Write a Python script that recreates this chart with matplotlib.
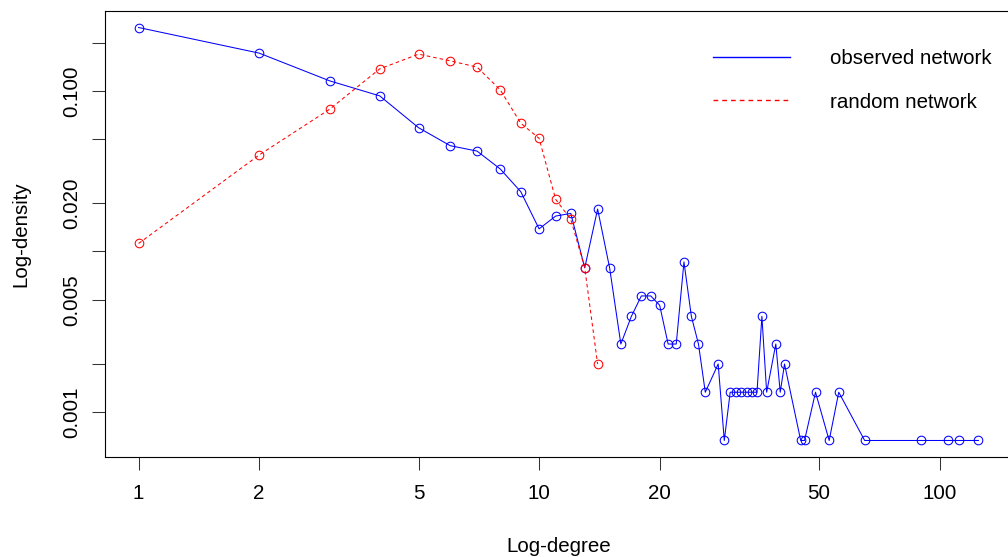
import numpy as np
import matplotlib
matplotlib.use("Agg")
import matplotlib.pyplot as plt

plt.rcParams['font.family'] = ['Liberation Sans', 'DejaVu Sans']

# Observed network: degree and density
obs_degree = [1, 2, 3, 4, 5, 6, 7, 8, 9, 10, 11, 12, 13, 14, 15, 16, 17, 18, 19, 20,
              21, 22, 23, 24, 25, 26, 28, 29, 30, 31, 32, 33, 34, 35, 36, 37, 39, 40,
              41, 45, 46, 49, 53, 56, 65, 90, 105, 112, 125]
obs_density = [0.2496, 0.1728, 0.1160, 0.0935, 0.0592, 0.0457, 0.0423, 0.0327, 0.0236,
               0.01384, 0.01663, 0.01728, 0.0079, 0.01839, 0.0079, 0.002646, 0.00394,
               0.00528, 0.00528, 0.00462, 0.002646, 0.002646, 0.00861, 0.00394, 0.002646,
               0.001324, 0.001986, 0.000662, 0.001324, 0.001324, 0.001324, 0.001324,
               0.001324, 0.001324, 0.00394, 0.001324, 0.002646, 0.001324, 0.001986,
               0.000662, 0.000662, 0.001324, 0.000662, 0.001324, 0.000662, 0.000662,
               0.000662, 0.000662, 0.000662]

# Random network
rnd_degree = [1, 2, 3, 4, 5, 6, 7, 8, 9, 10, 11, 12, 13, 14]
rnd_density = [0.01122, 0.0400, 0.0772, 0.1378, 0.1703, 0.1547, 0.1413, 0.1019, 0.0631,
               0.0508, 0.02113, 0.01585, 0.0079, 0.001984]

x_ticks = [1, 2, 5, 10, 20, 50, 100]
y_ticks = [0.001, 0.002, 0.005, 0.01, 0.02, 0.05, 0.1, 0.2]
y_ticklabels = ["0.001", "", "0.005", "", "0.020", "", "0.100", ""]

legend_labels = ["observed network", "random network"]
x_label = "Log-degree"
y_label = "Log-density"

FS = 14.8
fig = plt.figure(figsize=(10.08, 5.57), dpi=100)
ax = fig.add_axes([105 / 1008, 100 / 557, 907 / 1008, 446 / 557])

ax.plot(obs_degree, obs_density, color='blue', lw=0.75, marker='o', ms=6.2,
        mfc='none', mec='blue', mew=0.75, label=legend_labels[0])
ax.plot(rnd_degree, rnd_density, color='red', lw=0.75, ls=(0, (3.4, 2.9)),
        marker='o', ms=6.2, mfc='none', mec='red', mew=0.75, label=legend_labels[1])

ax.set_xscale('log')
ax.set_yscale('log')

# R-style 4% padding in log space
lx = np.log10([min(obs_degree + rnd_degree), max(obs_degree + rnd_degree)])
ly = np.log10([min(obs_density + rnd_density), max(obs_density + rnd_density)])
px = 0.04 * (lx[1] - lx[0])
py = 0.04 * (ly[1] - ly[0])
ax.set_xlim(10 ** (lx[0] - px), 10 ** (lx[1] + px))
ax.set_ylim(10 ** (ly[0] - py), 10 ** (ly[1] + py))

ax.xaxis.set_minor_locator(matplotlib.ticker.NullLocator())
ax.yaxis.set_minor_locator(matplotlib.ticker.NullLocator())
ax.set_xticks(x_ticks)
ax.set_xticklabels([str(t) for t in x_ticks], fontsize=FS)
ax.set_yticks(y_ticks)
ax.set_yticklabels(y_ticklabels, fontsize=FS, rotation=90, va='center')

ax.tick_params(axis='both', direction='out', length=9.2, width=0.75, color='#333333')
ax.tick_params(axis='x', pad=10)
ax.tick_params(axis='y', pad=8)

for s in ax.spines.values():
    s.set_linewidth(0.8)
    s.set_color('black')

ax.set_xlabel(x_label, fontsize=FS, labelpad=25)
ax.set_ylabel(y_label, fontsize=FS, labelpad=23)

leg = ax.legend(loc='upper left', bbox_to_anchor=((713 - 105) / 907, (457 - 49) / 446),
                frameon=False, fontsize=FS, handlelength=3.75, handletextpad=1.95,
                labelspacing=1.2, borderpad=0, borderaxespad=0)
for h in leg.get_lines():
    h.set_marker('')
    h.set_linewidth(1.0)

fig.savefig('out.png', dpi=100)
